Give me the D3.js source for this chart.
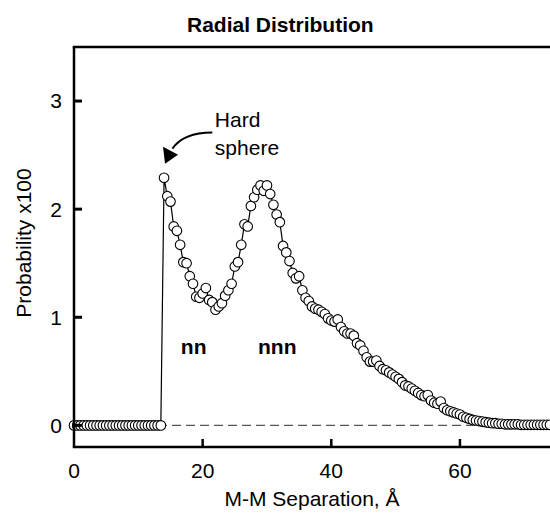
<!DOCTYPE html>
<html>
<head>
<meta charset="utf-8">
<script src="https://cdn.jsdelivr.net/npm/d3@7"></script>
<style>
  body { margin: 0; background: #fff; }
  text { font-family: "Liberation Sans", Arial, sans-serif; fill: #000; }
</style>
</head>
<body>
<div id="chart"></div>
<script>
// M-M separation (Angstrom), sampled every 0.5
const separation = [
  0, 0.5, 1, 1.5, 2, 2.5, 3, 3.5, 4, 4.5, 5, 5.5, 6, 6.5, 7, 7.5, 8, 8.5, 9, 9.5,
  10, 10.5, 11, 11.5, 12, 12.5, 13, 13.5,
  14, 14.5, 15, 15.5, 16, 16.5, 17, 17.5, 18, 18.5, 19, 19.5,
  20, 20.5, 21, 21.5, 22, 22.5, 23, 23.5, 24, 24.5, 25, 25.5, 26, 26.5, 27, 27.5, 28, 28.5, 29, 29.5,
  30, 30.5, 31, 31.5, 32, 32.5, 33, 33.5, 34, 34.5, 35, 35.5, 36, 36.5, 37, 37.5, 38, 38.5, 39, 39.5,
  40, 40.5, 41, 41.5, 42, 42.5, 43, 43.5, 44, 44.5, 45, 45.5, 46, 46.5, 47, 47.5, 48, 48.5, 49, 49.5,
  50, 50.5, 51, 51.5, 52, 52.5, 53, 53.5, 54, 54.5, 55, 55.5, 56, 56.5, 57, 57.5, 58, 58.5, 59, 59.5,
  60, 60.5, 61, 61.5, 62, 62.5, 63, 63.5, 64, 64.5, 65, 65.5, 66, 66.5, 67, 67.5, 68, 68.5, 69, 69.5,
  70, 70.5, 71, 71.5, 72, 72.5, 73, 73.5, 74
];

// probability x100
const probability = [
  0, 0, 0, 0, 0, 0, 0, 0, 0, 0, 0, 0, 0, 0, 0, 0, 0, 0, 0, 0,
  0, 0, 0, 0, 0, 0, 0, 0,
  2.29, 2.12, 2.07, 1.84, 1.80, 1.67, 1.51, 1.50, 1.38, 1.31, 1.19, 1.18,
  1.22, 1.27, 1.16, 1.14, 1.07, 1.10, 1.13, 1.20, 1.25, 1.31, 1.47, 1.51, 1.67, 1.86, 1.84, 2.03, 2.11, 2.18, 2.22, 2.17,
  2.22, 2.14, 2.04, 1.95, 1.88, 1.66, 1.60, 1.52, 1.41, 1.36, 1.38, 1.25, 1.18, 1.15, 1.10, 1.08, 1.07, 1.05, 1.03, 0.99,
  0.97, 0.96, 0.98, 0.91, 0.87, 0.85, 0.85, 0.83, 0.76, 0.74, 0.69, 0.63, 0.59, 0.59, 0.60, 0.55, 0.52, 0.51, 0.49, 0.47,
  0.45, 0.43, 0.40, 0.37, 0.36, 0.34, 0.32, 0.30, 0.28, 0.27, 0.28, 0.23, 0.21, 0.20, 0.22, 0.16, 0.14, 0.13, 0.12, 0.11,
  0.10, 0.08, 0.07, 0.06, 0.05, 0.045, 0.04, 0.035, 0.03, 0.025, 0.02, 0.02, 0.015, 0.015, 0.01, 0.01, 0.01, 0.01, 0.01, 0.005,
  0.005, 0.005, 0.005, 0.005, 0.005, 0.005, 0.005, 0.005, 0.005
];

const xTicks = [0, 20, 40, 60];
const yTicks = [0, 1, 2, 3];

const width = 550, height = 523;
const margin = { top: 47, right: 0, bottom: 76, left: 74 };

const svg = d3.select('#chart').append('svg')
    .attr('width', width)
    .attr('height', height);

const x = d3.scaleLinear().domain([0, 74]).range([margin.left, width - margin.right]);
const y = d3.scaleLinear().domain([-0.2, 3.5]).range([height - margin.bottom, margin.top]);

const data = separation.map((s, i) => ({ s: s, p: probability[i] }));

// dashed zero line
svg.append('line')
    .attr('x1', x(0)).attr('x2', x(74))
    .attr('y1', y(0)).attr('y2', y(0))
    .attr('stroke', '#555')
    .attr('stroke-width', 1.3)
    .attr('stroke-dasharray', '9,5');

// connecting line
const line = d3.line().x(d => x(d.s)).y(d => y(d.p));
svg.append('path')
    .datum(data)
    .attr('d', line)
    .attr('fill', 'none')
    .attr('stroke', '#000')
    .attr('stroke-width', 1.2);

// points
svg.append('g').selectAll('circle')
    .data(data)
    .enter().append('circle')
    .attr('cx', d => x(d.s))
    .attr('cy', d => y(d.p))
    .attr('r', 4.8)
    .attr('fill', '#fff')
    .attr('stroke', '#000')
    .attr('stroke-width', 1.1);

// frame: left, bottom, top
const frame = svg.append('g').attr('stroke', '#000').attr('stroke-width', 2.5);
frame.append('line').attr('x1', x(0)).attr('x2', x(0)).attr('y1', y(3.5)).attr('y2', y(-0.2));
frame.append('line').attr('x1', x(0) - 1.25).attr('x2', width).attr('y1', y(-0.2)).attr('y2', y(-0.2));
frame.append('line').attr('x1', x(0) - 1.25).attr('x2', width).attr('y1', y(3.5)).attr('y2', y(3.5));

// ticks (inside)
svg.append('g').selectAll('line')
    .data(yTicks)
    .enter().append('line')
    .attr('x1', x(0)).attr('x2', x(0) + 8)
    .attr('y1', d => y(d)).attr('y2', d => y(d))
    .attr('stroke', '#000').attr('stroke-width', 3);

svg.append('g').selectAll('line')
    .data(xTicks.filter(d => d > 0))
    .enter().append('line')
    .attr('x1', d => x(d)).attr('x2', d => x(d))
    .attr('y1', y(-0.2)).attr('y2', y(-0.2) - 8)
    .attr('stroke', '#000').attr('stroke-width', 2.5);

// tick labels
svg.append('g').selectAll('text')
    .data(xTicks)
    .enter().append('text')
    .attr('x', d => x(d))
    .attr('y', 478)
    .attr('text-anchor', 'middle')
    .style('font-size', '21px')
    .text(d => d);

svg.append('g').selectAll('text')
    .data(yTicks)
    .enter().append('text')
    .attr('x', 62)
    .attr('y', d => y(d))
    .attr('dy', '0.35em')
    .attr('text-anchor', 'end')
    .style('font-size', '21px')
    .text(d => d);

// titles
svg.append('text')
    .attr('x', 187)
    .attr('y', 32)
    .style('font-size', '21px')
    .style('font-weight', 'bold')
    .text('Radial Distribution');

svg.append('text')
    .attr('x', 312)
    .attr('y', 506)
    .attr('text-anchor', 'middle')
    .style('font-size', '21px')
    .text('M-M Separation, Å');

svg.append('text')
    .attr('transform', 'translate(31,243) rotate(-90)')
    .attr('text-anchor', 'middle')
    .style('font-size', '21px')
    .text('Probability x100');

// annotations
svg.append('text').attr('x', x(18.6)).attr('y', y(0.66))
    .attr('text-anchor', 'middle')
    .style('font-size', '21px').style('font-weight', 'bold')
    .text('nn');
svg.append('text').attr('x', x(31.6)).attr('y', y(0.66))
    .attr('text-anchor', 'middle')
    .style('font-size', '21px').style('font-weight', 'bold')
    .text('nnn');

svg.append('text').attr('x', x(21.9)).attr('y', y(2.76))
    .style('font-size', '21px').text('Hard');
svg.append('text').attr('x', x(21.9)).attr('y', y(2.50))
    .style('font-size', '21px').text('sphere');

// curved arrow to the hard-sphere peak
const tip = [x(14.15), y(2.42)];
svg.append('path')
    .attr('d', `M${x(21.5)},${y(2.71)} Q${x(17)},${y(2.71)} ${x(15.3)},${y(2.56)}`)
    .attr('fill', 'none')
    .attr('stroke', '#000')
    .attr('stroke-width', 2);
svg.append('path')
    .attr('d', `M${tip[0]},${tip[1]} L${tip[0] - 2},${tip[1] - 17} L${tip[0] + 13},${tip[1] - 9} Z`)
    .attr('fill', '#000');
</script>
</body>
</html>
